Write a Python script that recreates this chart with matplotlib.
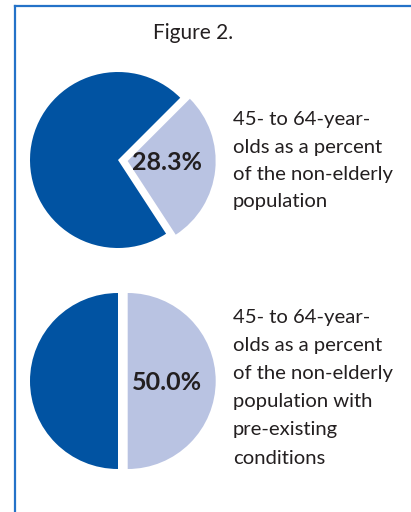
import matplotlib.pyplot as plt
from matplotlib.lines import Line2D

# data
title = "Figure 2."
share_top = [28.3, 71.7]     # 45-64 share, rest
share_bottom = [50.0, 50.0]
label_top = "28.3%"
label_bottom = "50.0%"
text_top = ["45- to 64-year-", "olds as a percent", "of the non-elderly", "population"]
text_bottom = ["45- to 64-year-", "olds as a percent", "of the non-elderly",
               "population with", "pre-existing", "conditions"]

dark = "#0153A2"
light = "#B9C3E2"
txt = "#231F20"
frame = "#2472C8"

W, H = 411, 512
fig = plt.figure(figsize=(W / 100, H / 100), dpi=100)
ax = fig.add_axes([0, 0, 1, 1])

font = "Lato"
gap = 9.7   # explode offset in pixels (data units)

# frame (open on the right and bottom)
ax.add_line(Line2D([15, 15], [0, H - 6], color=frame, lw=1.6))
ax.add_line(Line2D([15, W], [H - 6, H - 6], color=frame, lw=1.6))

ax.text(193, H - 33, title, ha="center", va="center", fontsize=15,
        color=txt, family=font)

# top pie
ax.pie(share_top, colors=[light, dark], startangle=45, counterclock=False,
       explode=[gap, 0], center=(118, H - 160), radius=88, frame=True)
ax.text(167, H - 162, label_top, ha="center", va="center", fontsize=18,
        fontweight="bold", color=txt, family=font)
for i, line in enumerate(text_top):
    ax.text(233, H - 120 - i * 27.3, line, ha="left", va="center",
            fontsize=14.6, color=txt, family=font)

# bottom pie
ax.pie(share_bottom, colors=[light, dark], startangle=90, counterclock=False,
       explode=[gap, 0], center=(118, H - 381), radius=88, frame=True)
ax.text(167, H - 382, label_bottom, ha="center", va="center", fontsize=18,
        fontweight="bold", color=txt, family=font)
for i, line in enumerate(text_bottom):
    ax.text(233, H - 318 - i * 28, line, ha="left", va="center",
            fontsize=14.6, color=txt, family=font)

ax.set_xlim(0, W)
ax.set_ylim(0, H)
ax.set_aspect("auto")
ax.axis("off")

fig.savefig("out.png", dpi=100)
